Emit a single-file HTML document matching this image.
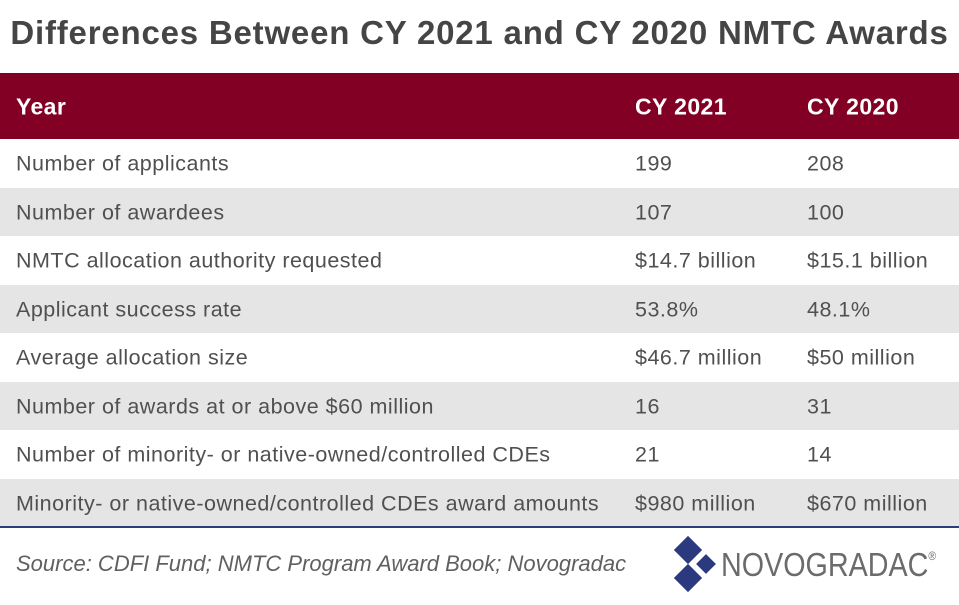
<!DOCTYPE html>
<html><head><meta charset="utf-8"><style>
body{margin:0;width:959px;height:605px;background:#fff;font-family:"Liberation Sans",sans-serif;position:relative;overflow:hidden}
.t{position:absolute;left:0;width:959px;top:14px;text-align:center;font-weight:bold;font-size:33px;color:#454545;letter-spacing:0.8px;white-space:nowrap}
.hd{position:absolute;left:0;top:73px;width:959px;height:66px;background:#820024;color:#fff;font-weight:bold;font-size:23px;letter-spacing:0.4px}
.r{position:absolute;left:0;width:959px;height:48.5px;font-size:21.5px;letter-spacing:0.5px;color:#505050}
.g{background:#e5e5e5}
.c{position:absolute;top:52%;transform:translateY(-50%);white-space:nowrap}
.a{left:16px}.b{left:635px}.d{left:807px}
.line{position:absolute;left:0;top:526px;width:959px;height:2px;background:#2c3e7a}
.src{position:absolute;left:16px;top:551px;font-style:italic;font-size:22px;color:#606060}
.dm{position:absolute;background:#2b3a7e;transform:rotate(45deg)}
.logo{position:absolute;left:721px;top:546px;font-size:33px;color:#6b6b6b;transform:scaleX(0.87);transform-origin:left;white-space:nowrap}
</style></head><body>
<div class="t">Differences Between CY 2021 and CY 2020 NMTC Awards</div>
<div class="hd"><span class="c a">Year</span><span class="c b">CY 2021</span><span class="c d">CY 2020</span></div>
<div class="r" style="top:139px"><span class="c a">Number of applicants</span><span class="c b">199</span><span class="c d">208</span></div>
<div class="r g" style="top:187.5px"><span class="c a">Number of awardees</span><span class="c b">107</span><span class="c d">100</span></div>
<div class="r" style="top:236px"><span class="c a">NMTC allocation authority requested</span><span class="c b">$14.7 billion</span><span class="c d">$15.1 billion</span></div>
<div class="r g" style="top:284.5px"><span class="c a">Applicant success rate</span><span class="c b">53.8%</span><span class="c d">48.1%</span></div>
<div class="r" style="top:333px"><span class="c a">Average allocation size</span><span class="c b">$46.7 million</span><span class="c d">$50 million</span></div>
<div class="r g" style="top:381.5px"><span class="c a">Number of awards at or above $60 million</span><span class="c b">16</span><span class="c d">31</span></div>
<div class="r" style="top:430px"><span class="c a">Number of minority- or native-owned/controlled CDEs</span><span class="c b">21</span><span class="c d">14</span></div>
<div class="r g" style="top:478.5px"><span class="c a">Minority- or native-owned/controlled CDEs award amounts</span><span class="c b">$980 million</span><span class="c d">$670 million</span></div>
<div class="line"></div>
<div class="src">Source: CDFI Fund; NMTC Program Award Book; Novogradac</div>
<div class="dm" style="left:678px;top:540px;width:20px;height:20px"></div>
<div class="dm" style="left:699px;top:557px;width:14px;height:14px"></div>
<div class="dm" style="left:678px;top:568px;width:20px;height:20px"></div>
<div class="logo">NOVOGRADAC<sup style="font-size:12px;vertical-align:16px">®</sup></div>
</body></html>
